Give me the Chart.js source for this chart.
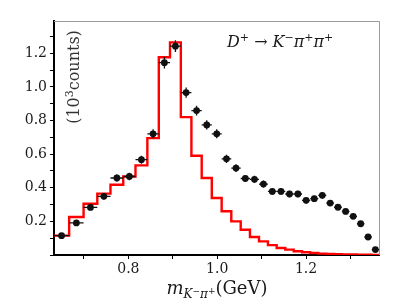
<!DOCTYPE html>
<html>
<head>
<meta charset="utf-8">
<script src="https://cdn.jsdelivr.net/npm/chart.js@4.4.0/dist/chart.umd.min.js"></script>
<style>
  html, body { margin: 0; padding: 0; background: #fff; }
</style>
</head>
<body>
<canvas id="massChart" width="416" height="306"></canvas>
<script>
// bin edges in m(K-pi+) [GeV] (bins are uniform in m^2)
var binEdges = [0.6325, 0.6666, 0.6991, 0.7300, 0.7597, 0.7884, 0.8160, 0.8427, 0.8685,
  0.8937, 0.9181, 0.9419, 0.9651, 0.9878, 1.0100, 1.0317, 1.0529, 1.0737, 1.0941,
  1.1142, 1.1339, 1.1533, 1.1723, 1.1910, 1.2095, 1.2276, 1.2456, 1.2632, 1.2806,
  1.2978, 1.3147, 1.3315, 1.3480, 1.3643];

// data points (10^3 counts)
var dataCounts = [0.115, 0.191, 0.283, 0.349, 0.458, 0.467, 0.567, 0.721, 1.144, 1.242,
  0.966, 0.859, 0.774, 0.721, 0.572, 0.517, 0.455, 0.450, 0.422, 0.378, 0.378, 0.363,
  0.363, 0.325, 0.335, 0.355, 0.309, 0.284, 0.259, 0.230, 0.186, 0.107, 0.032];
var dataErrors = [0.011, 0.014, 0.017, 0.019, 0.021, 0.022, 0.024, 0.027, 0.034, 0.035,
  0.031, 0.029, 0.028, 0.027, 0.024, 0.023, 0.021, 0.021, 0.021, 0.019, 0.019, 0.019,
  0.019, 0.018, 0.018, 0.019, 0.018, 0.017, 0.016, 0.015, 0.014, 0.010, 0.006];

// red histogram
var mcCounts = [0.115, 0.226, 0.305, 0.365, 0.418, 0.467, 0.533, 0.695, 1.176, 1.265,
  0.820, 0.590, 0.458, 0.339, 0.260, 0.200, 0.150, 0.107, 0.081, 0.059, 0.042, 0.032,
  0.022, 0.016, 0.012, 0.008, 0.006, 0.005, 0.004, 0.003, 0.002, 0.002, 0.001];

var xTickLabels = [0.8, 1.0, 1.2];
var yTickLabels = [0.2, 0.4, 0.6, 0.8, 1.0, 1.2];

var serif = '"DejaVu Serif", "Liberation Serif", serif';

function runFont(r) {
  return (r.it ? 'italic ' : '') + r.size + 'px ' + serif;
}
function runsWidth(ctx, runs) {
  var w = 0;
  runs.forEach(function (r) { ctx.font = runFont(r); w += ctx.measureText(r.t).width; });
  return w;
}
function drawRuns(ctx, x, y, runs) {
  var cx = x;
  runs.forEach(function (r) {
    ctx.font = runFont(r);
    ctx.fillText(r.t, cx, y + (r.dy || 0));
    cx += ctx.measureText(r.t).width;
  });
}

var errorBars = {
  id: 'errorBars',
  afterDatasetsDraw: function (chart) {
    var ctx = chart.ctx, xs = chart.scales.x, ys = chart.scales.y;
    ctx.save();
    ctx.strokeStyle = '#111';
    ctx.lineWidth = 1.3;
    for (var i = 0; i < dataCounts.length; i++) {
      var xc = xs.getPixelForValue((binEdges[i] + binEdges[i + 1]) / 2);
      var yc = ys.getPixelForValue(dataCounts[i]);
      ctx.beginPath();
      ctx.moveTo(xs.getPixelForValue(binEdges[i]), yc);
      ctx.lineTo(xs.getPixelForValue(binEdges[i + 1]), yc);
      ctx.moveTo(xc, ys.getPixelForValue(dataCounts[i] - dataErrors[i]));
      ctx.lineTo(xc, ys.getPixelForValue(dataCounts[i] + dataErrors[i]));
      ctx.stroke();
    }
    ctx.restore();
  }
};

var texts = {
  id: 'texts',
  afterDraw: function (chart) {
    var ctx = chart.ctx, a = chart.chartArea;
    ctx.save();
    // thin frame top / right
    ctx.strokeStyle = '#9a9a9a';
    ctx.lineWidth = 1;
    ctx.beginPath();
    ctx.moveTo(a.left, a.top + 0.5);
    ctx.lineTo(a.right + 0.5, a.top + 0.5);
    ctx.lineTo(a.right + 0.5, a.bottom);
    ctx.stroke();

    ctx.fillStyle = '#1a1a1a';
    ctx.textBaseline = 'alphabetic';
    // decay label
    drawRuns(ctx, 227, 47, [
      {t: 'D', size: 16, it: true}, {t: '+', size: 11, dy: -6},
      {t: ' \u2192 ', size: 16}, {t: 'K', size: 16, it: true}, {t: '\u2212', size: 11, dy: -6},
      {t: '\u03c0', size: 16, it: true}, {t: '+', size: 11, dy: -6},
      {t: '\u03c0', size: 16, it: true}, {t: '+', size: 11, dy: -6}
    ]);
    // x title
    var xt = [
      {t: 'm', size: 18, it: true}, {t: 'K', size: 12, it: true, dy: 4},
      {t: '\u2212', size: 9}, {t: '\u03c0', size: 12, it: true, dy: 4},
      {t: '+', size: 9}, {t: '(GeV)', size: 18}
    ];
    drawRuns(ctx, 217 - runsWidth(ctx, xt) / 2, 294, xt);
    // y title (inside plot, rotated)
    var yt = [{t: '(10', size: 16}, {t: '3', size: 11, dy: -6}, {t: 'counts)', size: 16}];
    ctx.fillStyle = '#333';
    ctx.translate(79, 77);
    ctx.rotate(-Math.PI / 2);
    drawRuns(ctx, -runsWidth(ctx, yt) / 2, 0, yt);
    ctx.restore();
  }
};

function onGrid(v) { return Math.abs(v * 10 - Math.round(v * 10)) < 1e-6; }

var ctx = document.getElementById('massChart').getContext('2d');
var chart = new Chart(ctx, {
  type: 'scatter',
  data: {
    datasets: [{
      // data points
      data: dataCounts.map(function (v, i) { return {x: (binEdges[i] + binEdges[i + 1]) / 2, y: v}; }),
      backgroundColor: '#111',
      borderWidth: 0,
      pointRadius: 3.4,
      order: 0
    }, {
      // histogram, one step per bin
      type: 'line',
      data: binEdges.map(function (e, i) { return {x: e, y: mcCounts[Math.min(i, mcCounts.length - 1)]}; }),
      stepped: 'before',
      borderColor: '#ff0000',
      borderWidth: 2.4,
      pointRadius: 0,
      fill: false,
      order: 1
    }]
  },
  options: {
    responsive: false,
    animation: false,
    events: [],
    layout: { padding: { left: 0, right: 37, top: 21, bottom: 0 } },
    plugins: { legend: { display: false }, tooltip: { enabled: false } },
    scales: {
      x: {
        type: 'linear',
        min: binEdges[0],
        max: binEdges[binEdges.length - 1],
        border: { display: true, color: '#000', width: 2 },
        grid: { drawOnChartArea: false, drawTicks: true, tickLength: 4, color: '#000' },
        ticks: {
          stepSize: 0.1,
          includeBounds: false,
          autoSkip: false,
          maxRotation: 0,
          padding: 2,
          color: '#1a1a1a',
          font: { family: serif, size: 14 },
          callback: function (v) {
            return xTickLabels.some(function (t) { return Math.abs(t - v) < 1e-6; }) ? v.toFixed(1) : '';
          }
        },
        afterBuildTicks: function (s) { s.ticks = s.ticks.filter(function (t) { return onGrid(t.value); }); },
        afterFit: function (s) { s.height = 51; }
      },
      y: {
        min: 0,
        max: 1.392,
        border: { display: true, color: '#000', width: 2 },
        grid: { drawOnChartArea: false, drawTicks: true, tickLength: 4, color: '#000' },
        ticks: {
          stepSize: 0.1,
          includeBounds: false,
          autoSkip: false,
          padding: 3,
          color: '#1a1a1a',
          font: { family: serif, size: 14 },
          callback: function (v) {
            return yTickLabels.some(function (t) { return Math.abs(t - v) < 1e-6; }) ? v.toFixed(1) : '';
          }
        },
        afterBuildTicks: function (s) { s.ticks = s.ticks.filter(function (t) { return onGrid(t.value); }); },
        afterFit: function (s) { s.width = 54; }
      }
    }
  },
  plugins: [errorBars, texts]
});
</script>
</body>
</html>
